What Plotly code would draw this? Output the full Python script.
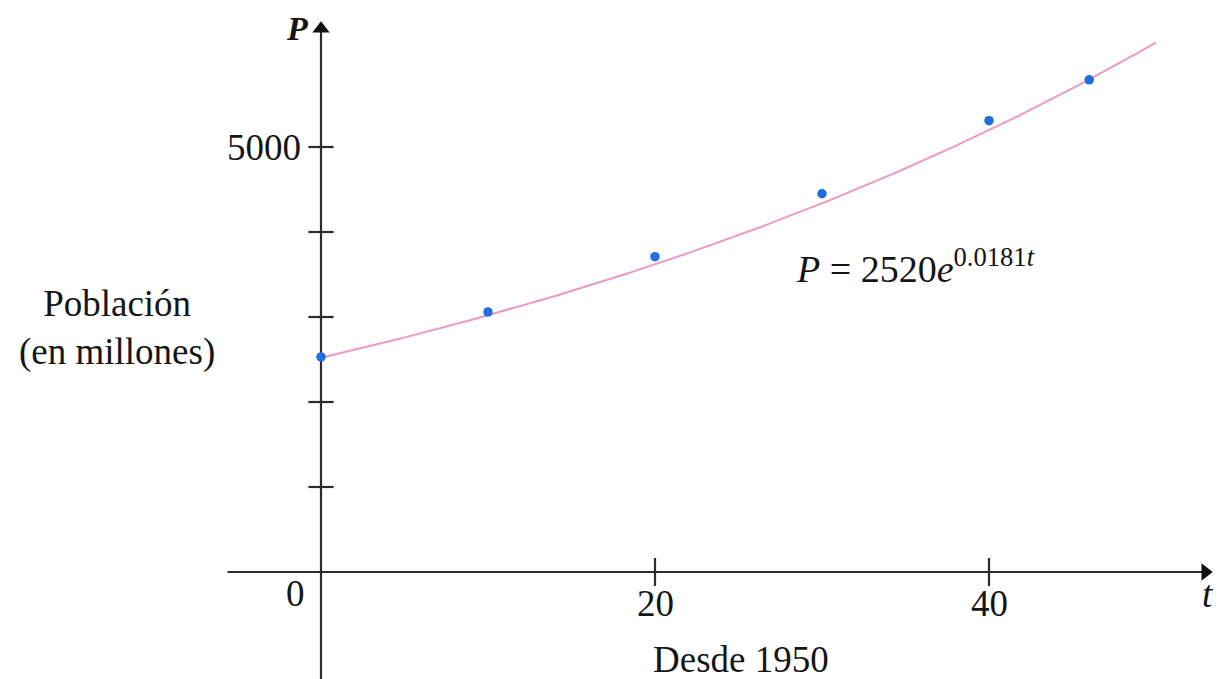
import numpy as np
import plotly.graph_objects as go

# Population data (millions), years since 1950
years = [0, 10, 20, 30, 40, 46]
population = [2530, 3060, 3710, 4450, 5310, 5790]

# Fitted exponential model P = 2520 e^(0.0181 t)
P0 = 2520
rate = 0.0181
t_model = np.linspace(0, 50, 200)
p_model = P0 * np.exp(rate * t_model)

y_ticks = [1000, 2000, 3000, 4000, 5000]
y_tick_labels = {5000: "5000"}
x_ticks = [20, 40]
x_tick_labels = ["20", "40"]

FONT = "Liberation Serif"
AXIS_COLOR = "#2b2b2b"
TEXT_COLOR = "#151515"

X_RANGE = [-19.222, 53.713]
Y_RANGE = [-1258.8, 6729.4]

fig = go.Figure()

# Axis lines
fig.add_trace(go.Scatter(x=[-5.6, 52.8], y=[0, 0], mode="lines",
                         line=dict(color=AXIS_COLOR, width=2.2),
                         hoverinfo="skip", cliponaxis=False))
fig.add_trace(go.Scatter(x=[0, 0], y=[-1258, 6420], mode="lines",
                         line=dict(color=AXIS_COLOR, width=2.2),
                         hoverinfo="skip", cliponaxis=False))
# Arrowheads
fig.add_trace(go.Scatter(x=[0], y=[6390], mode="markers",
                         marker=dict(symbol="triangle-up", size=15, color="#111"),
                         hoverinfo="skip", cliponaxis=False))
fig.add_trace(go.Scatter(x=[52.95], y=[0], mode="markers",
                         marker=dict(symbol="triangle-right", size=15, color="#111"),
                         hoverinfo="skip", cliponaxis=False))
# Tick marks
fig.add_trace(go.Scatter(x=[0] * len(y_ticks), y=y_ticks, mode="markers",
                         marker=dict(symbol="line-ew", size=18,
                                     line=dict(color=AXIS_COLOR, width=2.2)),
                         hoverinfo="skip"))
fig.add_trace(go.Scatter(x=x_ticks, y=[0] * len(x_ticks), mode="markers",
                         marker=dict(symbol="line-ns", size=20,
                                     line=dict(color=AXIS_COLOR, width=2.2)),
                         hoverinfo="skip"))

# Model curve
fig.add_trace(go.Scatter(x=t_model, y=p_model, mode="lines",
                         line=dict(color="#ee98c4", width=2),
                         hoverinfo="skip"))
# Observed data
fig.add_trace(go.Scatter(x=years, y=population, mode="markers",
                         marker=dict(color="#1f6fe0", size=9.5),
                         hoverinfo="skip"))

text_font = dict(family=FONT, size=37, color=TEXT_COLOR)
annotations = []
for val, lab in y_tick_labels.items():
    annotations.append(dict(x=-1.1, y=val, text=lab, xanchor="right", yanchor="middle",
                            showarrow=False, font=text_font))
for val, lab in zip(x_ticks, x_tick_labels):
    annotations.append(dict(x=val, y=-370, text=lab, xanchor="center", yanchor="middle",
                            showarrow=False, font=text_font))
annotations += [
    dict(x=-1.5, y=-255, text="0", showarrow=False, font=text_font,
         xanchor="center", yanchor="middle"),
    dict(x=53.1, y=-270, text="<i>t</i>", showarrow=False, font=text_font,
         xanchor="center", yanchor="middle"),
    dict(x=-1.45, y=6400, text="<i><b>P</b></i>", showarrow=False,
         font=dict(family=FONT, size=34, color=TEXT_COLOR),
         xanchor="center", yanchor="middle"),
    dict(x=-12.22, y=2870, text="Población<br>(en millones)", showarrow=False,
         font=text_font, xanchor="center", yanchor="middle", align="center"),
    dict(x=25.15, y=-1025, text="Desde 1950", showarrow=False, font=text_font,
         xanchor="center", yanchor="middle"),
    dict(x=28.35, y=3600,
         text="<i>P</i> = 2520<i>e</i><sup>0.0181<i>t</i></sup>",
         showarrow=False, font=dict(family=FONT, size=38, color=TEXT_COLOR),
         xanchor="left", yanchor="middle"),
]

fig.update_layout(
    width=1218, height=679, autosize=False,
    margin=dict(l=0, r=0, t=0, b=0),
    paper_bgcolor="white", plot_bgcolor="white",
    showlegend=False,
    xaxis=dict(range=X_RANGE, visible=False, fixedrange=True),
    yaxis=dict(range=Y_RANGE, visible=False, fixedrange=True),
    annotations=annotations,
)

fig.write_html("out.html", config={"displayModeBar": False})
